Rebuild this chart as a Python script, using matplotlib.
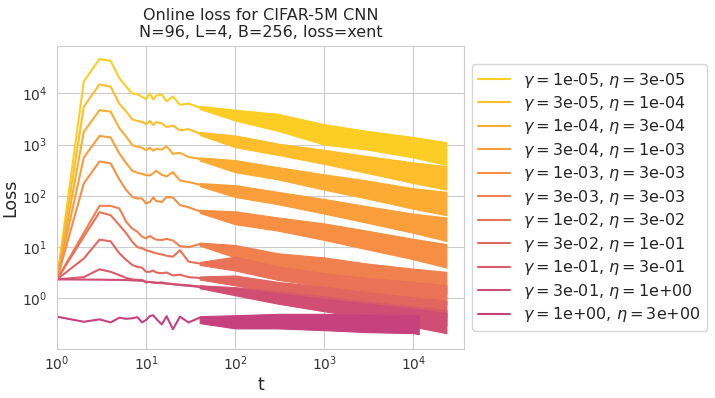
import matplotlib
matplotlib.use("Agg")
import matplotlib.pyplot as plt
import numpy as np
import seaborn as sns

# ---------- data ----------
gammas = ["1e-05", "3e-05", "1e-04", "3e-04", "1e-03", "3e-03",
          "1e-02", "3e-02", "1e-01", "3e-01", "1e+00"]
etas = ["3e-05", "1e-04", "3e-04", "1e-03", "3e-03", "3e-03",
        "3e-02", "1e-01", "3e-01", "1e+00", "3e+00"]

# early steps: single visible line
t_line = [1, 2, 3, 4, 5, 6, 7, 8, 9, 10, 11, 12, 13, 15, 17, 20, 24, 30, 40]
loss_line = [
    [2.35, 17000, 47000, 43000, 20000, 13500, 10000, 9600, 8600, 7700, 10000, 7600, 9000, 9500, 7000, 8700, 6000, 6300, 5300],
    [2.35, 5500, 15000, 13500, 6300, 4400, 3100, 2900, 2800, 2500, 2900, 2400, 2750, 2600, 2200, 2350, 1900, 2000, 1650],
    [2.35, 1780, 4700, 4400, 2100, 1420, 980, 910, 870, 780, 870, 760, 830, 800, 930, 660, 690, 575, 525],
    [2.35, 560, 1480, 1380, 675, 430, 310, 282, 268, 255, 250, 275, 310, 257, 240, 290, 200, 186, 166],
    [2.35, 175, 470, 430, 210, 130, 96, 89, 89, 71, 76, 93, 79, 76, 95, 93, 66, 60, 50],
    [2.35, 19, 64, 64, 57, 31, 23, 20, 16, 14.8, 16.6, 15, 14, 13.8, 14.5, 13.5, 10.5, 10, 11.5],
    [2.35, 16, 48, 42, 27, 18.6, 12.7, 10, 9.5, 8.7, 8.3, 7.9, 7.6, 7.2, 6.8, 6.5, 8.7, 5.2, 4.8],
    [2.35, 6.0, 14, 13, 7.6, 5.6, 4.5, 4.1, 4.0, 3.3, 3.3, 3.5, 3.2, 3.1, 3.2, 2.8, 2.9, 2.6, 2.5],
    [2.35, 2.6, 3.7, 3.3, 2.85, 2.5, 2.35, 2.3, 2.3, 2.05, 2.1, 2.05, 2.0, 2.05, 1.95, 1.9, 1.85, 1.8, 1.7],
    [2.35, 2.33, 2.32, 2.3, 2.3, 2.28, 2.25, 2.22, 2.2, 2.12, 2.08, 2.05, 2.02, 1.98, 1.95, 1.9, 1.82, 1.76, 1.68],
    [0.44, 0.35, 0.39, 0.34, 0.42, 0.40, 0.41, 0.43, 0.34, 0.38, 0.45, 0.47, 0.40, 0.31, 0.45, 0.25, 0.44, 0.34, 0.42],
]

# later steps: noise makes each run a band (low / high edge)
t_band = [40, 100, 300, 1000, 3000, 10000, 23500]
t_last = [23500] * 10 + [11500]
band_lo = [
    [4950, 2950, 1860, 1000, 800, 560, 400],
    [1540, 890, 630, 420, 280, 178, 132],
    [490, 290, 210, 132, 89, 56, 42],
    [155, 95, 69, 45, 30, 19, 13.2],
    [46.5, 28, 21, 13.8, 9.1, 5.8, 4.0],
    [10.7, 6.3, 4.0, 2.9, 2.1, 1.5, 1.26],
    [4.5, 3.5, 2.3, 1.7, 1.26, 0.91, 0.76],
    [2.33, 1.8, 1.26, 0.93, 0.72, 0.54, 0.45],
    [1.6, 1.26, 0.89, 0.66, 0.50, 0.36, 0.30],
    [1.58, 1.15, 0.79, 0.56, 0.42, 0.28, 0.21],
    [0.33, 0.26, 0.26, 0.24, 0.22, 0.21, 0.20],
]
band_hi = [
    [5700, 4800, 4000, 2500, 1860, 1410, 1120],
    [1770, 1510, 1050, 790, 600, 450, 380],
    [565, 500, 365, 263, 200, 141, 120],
    [178, 162, 120, 87, 63, 45, 38],
    [53.5, 50, 38, 29, 21, 14.5, 11.5],
    [12.3, 11, 7.6, 6.3, 4.8, 3.8, 3.3],
    [5.15, 6.5, 4.2, 3.1, 2.5, 2.1, 1.8],
    [2.68, 2.8, 2.1, 1.7, 1.32, 1.05, 0.89],
    [1.8, 1.66, 1.38, 1.1, 0.87, 0.69, 0.60],
    [1.78, 1.58, 1.26, 0.98, 0.79, 0.63, 0.52],
    [0.45, 0.47, 0.50, 0.50, 0.48, 0.46, 0.46],
]

# ---------- plot ----------
sns.set_style("whitegrid")
plt.rcParams["font.family"] = ["DejaVu Sans"]

fig = plt.figure(figsize=(7.15, 3.98), dpi=100)
ax = fig.add_axes([0.0797, 0.1231, 0.5692, 0.762])

colors = plt.cm.plasma(np.linspace(0.9, 0.48, len(gammas)))

for i in range(len(gammas)):
    c = colors[i]
    label = rf"$\gamma = ${gammas[i]}, $\eta = ${etas[i]}"
    ax.plot(t_line, loss_line[i], color=c, lw=1.5, label=label)
    tb = t_band[:-1] + [t_last[i]]
    ax.fill_between(tb, band_lo[i], band_hi[i], color=c, lw=0.8, edgecolor=c)

ax.set_xscale("log")
ax.set_yscale("log")
ax.set_xlim(1, 3.7e4)
ax.set_ylim(0.103, 8.5e4)
ax.tick_params(axis="both", labelsize=10, colors="#333333", length=0)
ax.tick_params(axis="x", pad=4)
ax.tick_params(axis="y", pad=7)
ax.set_xlabel("t", fontsize=12.5, labelpad=2)
ax.set_ylabel("Loss", fontsize=12.5, labelpad=2)
ax.set_title("Online loss for CIFAR-5M CNN\nN=96, L=4, B=256, loss=xent", fontsize=11.5)

ax.legend(loc="center left", bbox_to_anchor=(1.0, 0.5), fontsize=11.5,
          labelspacing=0.28, handlelength=2.0, frameon=True)

fig.savefig("out.png", dpi=100)
